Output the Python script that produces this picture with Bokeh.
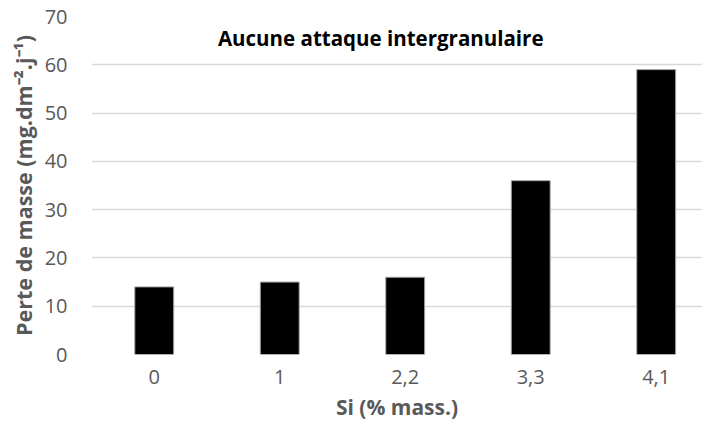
from bokeh.plotting import figure
from bokeh.models import Range1d, SingleIntervalTicker, FixedTicker, Label, ColumnDataSource, Title
from bokeh.embed import file_html
from bokeh.resources import INLINE

categories = ["0", "1", "2,2", "3,3", "4,1"]
values = [14, 15, 16, 36, 59]
title_text = "Aucune attaque intergranulaire"
x_label = "Si (% mass.)"
y_label = "Perte de masse (mg.dm\u207b\u00b2.j\u207b\u00b9)"

FONT = "Open Sans"
GRAY = "#595959"

xs = list(range(len(categories)))
src = ColumnDataSource(data=dict(x=xs, top=values))

p = figure(width=702, height=423, output_backend="svg", toolbar_location=None,
           x_range=Range1d(-0.5, 4.369), y_range=Range1d(0, 70),
           min_border_left=91, min_border_right=0, min_border_top=16, min_border_bottom=65)
p.outline_line_color = None
p.background_fill_color = "white"
p.border_fill_color = "white"

p.vbar(x="x", top="top", width=0.31, bottom=0, source=src,
       fill_color="black", line_color="#a6a6a6", line_width=1)

p.xgrid.visible = False
p.ygrid.grid_line_color = "#d9d9d9"
p.ygrid.grid_line_width = 1.3

p.yaxis.ticker = SingleIntervalTicker(interval=10)
p.yaxis.axis_line_color = None
p.yaxis.major_tick_line_color = None
p.yaxis.minor_tick_line_color = None
p.yaxis.major_tick_out = 0
p.yaxis.major_label_standoff = 20
p.yaxis.major_label_text_font = FONT
p.yaxis.major_label_text_font_size = "20px"
p.yaxis.major_label_text_color = GRAY

ytitle = Title(text=y_label, align="center", offset=14, standoff=8,
               text_font=FONT, text_font_size="21.5px", text_font_style="bold",
               text_color=GRAY)
p.add_layout(ytitle, "left")

p.xaxis.ticker = FixedTicker(ticks=xs)
p.xaxis.major_label_overrides = {i: c for i, c in zip(xs, categories)}
p.xaxis.axis_line_color = None
p.xaxis.major_tick_line_color = None
p.xaxis.minor_tick_line_color = None
p.xaxis.major_tick_out = 0
p.xaxis.major_label_standoff = 15
p.xaxis.major_label_text_font = FONT
p.xaxis.major_label_text_font_size = "20px"
p.xaxis.major_label_text_color = GRAY

p.xaxis.axis_label = x_label
p.xaxis.axis_label_text_font = FONT
p.xaxis.axis_label_text_font_size = "21px"
p.xaxis.axis_label_text_font_style = "bold"
p.xaxis.axis_label_text_color = GRAY
p.xaxis.axis_label_standoff = 6

p.add_layout(Label(x=1.805, y=65.5, text=title_text,
                   text_font=FONT, text_font_size="20.5px", text_font_style="bold",
                   text_color="black", text_align="center", text_baseline="middle"))

open("out.html", "w").write(file_html(p, INLINE))
